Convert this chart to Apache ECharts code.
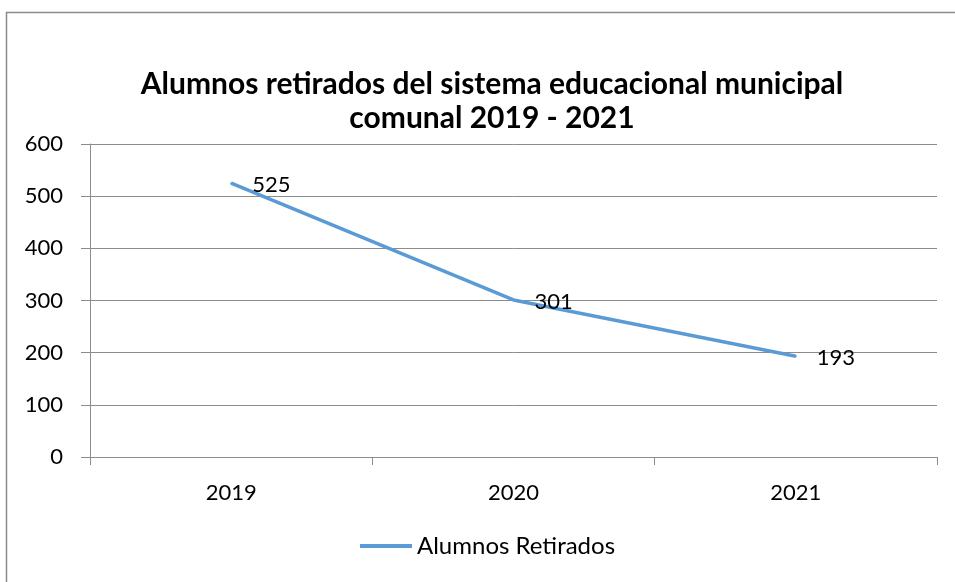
<!DOCTYPE html>
<html>
<head>
<meta charset="utf-8">
<style>
  html, body { margin: 0; padding: 0; background: #fff; }
  #chart { width: 955px; height: 582px; }
</style>
<script src="https://cdn.jsdelivr.net/npm/echarts@6/dist/echarts.min.js"></script>
</head>
<body>
<div id="chart"></div>
<script>
var years = ['2019', '2020', '2021'];
var retirados = [525, 301, 193];
var yTicks = { min: 0, max: 600, interval: 100 };

var FONT = 'Lato';
var GRAY = '#8c8c8c';
var BLUE = '#5B9BD5';

var myChart = echarts.init(document.getElementById('chart'));

var option = {
    backgroundColor: '#ffffff',
    animation: false,
    graphic: [{
        type: 'rect',
        shape: { x: 6.5, y: 12.5, width: 1000, height: 700 },
        style: { fill: 'none', stroke: '#8c8c8c', lineWidth: 1.5 },
        silent: true
    }],
    title: {
        text: 'Alumnos retirados del sistema educacional municipal\ncomunal 2019 - 2021',
        left: 487,
        textAlign: 'center',
        top: 62,
        textStyle: {
            fontFamily: FONT,
            fontWeight: 'bold',
            fontSize: 30,
            lineHeight: 34,
            color: '#000'
        }
    },
    legend: {
        bottom: 19,
        left: 355,
        itemWidth: 52,
        itemHeight: 10,
        itemGap: 6,
        data: [{
            name: 'Alumnos Retirados',
            icon: 'path://M0,0 L52,0 L52,4 L0,4 Z',
            itemStyle: { color: BLUE, opacity: 1 }
        }],
        textStyle: { fontFamily: FONT, fontSize: 24, color: '#000' }
    },
    grid: {
        left: 90,
        right: 18,
        top: 144,
        bottom: 125
    },
    xAxis: {
        type: 'category',
        data: years,
        boundaryGap: true,
        axisLine: { lineStyle: { color: GRAY, width: 1 } },
        axisTick: { show: true, length: 8, lineStyle: { color: GRAY } },
        axisLabel: { margin: 25, fontFamily: FONT, fontSize: 22, color: '#000' }
    },
    yAxis: {
        type: 'value',
        min: yTicks.min,
        max: yTicks.max,
        interval: yTicks.interval,
        axisLine: { show: true, lineStyle: { color: GRAY, width: 1 } },
        axisTick: { show: true, length: 9, lineStyle: { color: GRAY } },
        splitLine: { lineStyle: { color: GRAY, width: 1 } },
        axisLabel: { margin: 27, fontFamily: FONT, fontSize: 22, color: '#000' }
    },
    series: [{
        name: 'Alumnos Retirados',
        type: 'line',
        data: retirados,
        symbol: 'circle',
        symbolSize: 2,
        showSymbol: true,
        lineStyle: { color: BLUE, width: 3.5 },
        itemStyle: { color: BLUE },
        label: {
            show: true,
            position: 'right',
            distance: 20,
            offset: [0, 2],
            fontFamily: FONT,
            fontSize: 22,
            color: '#000'
        }
    }]
};

myChart.setOption(option);
</script>
</body>
</html>
